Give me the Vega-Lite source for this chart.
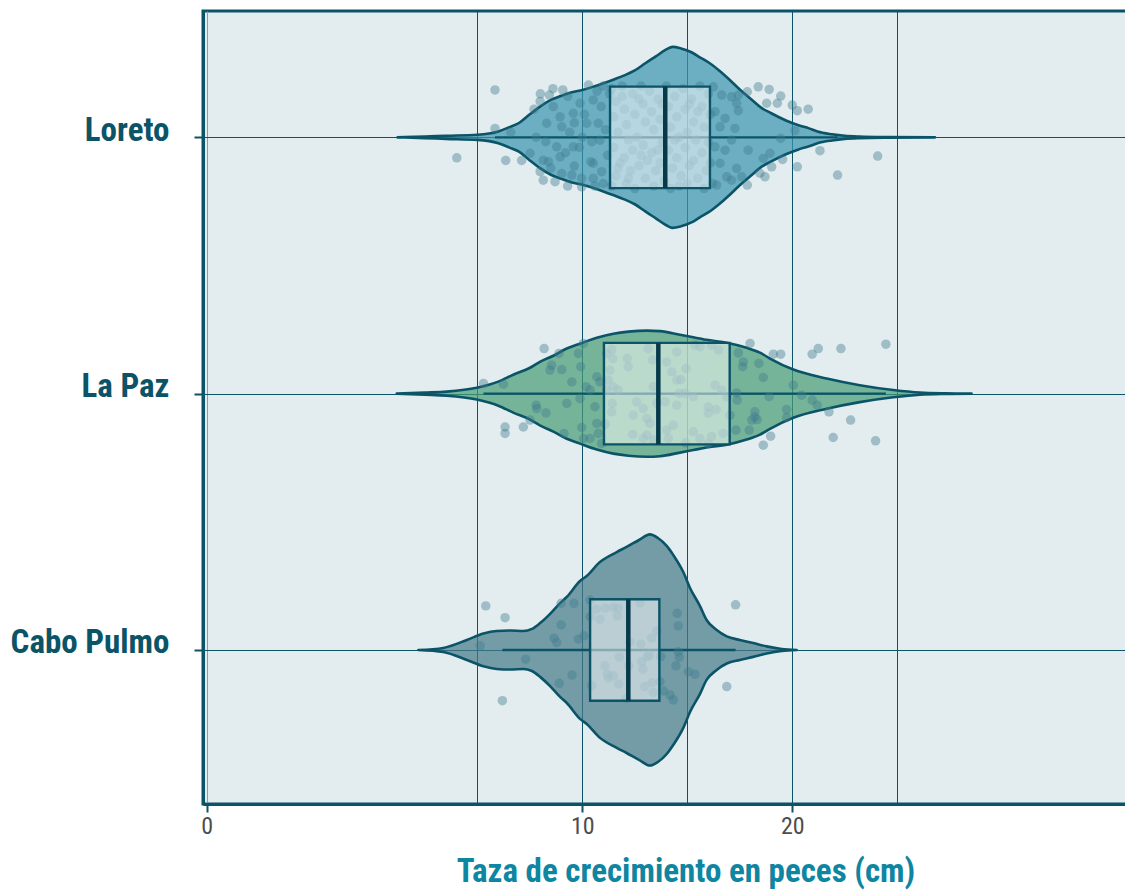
{
  "$schema": "https://vega.github.io/schema/vega-lite/v6.json",
  "autosize": "none",
  "width": 965,
  "height": 793,
  "padding": {"left": 203, "top": 11, "right": 0, "bottom": 86},
  "background": "white",
  "config": {
    "view": {"fill": "#e3ecee", "stroke": "#0b5468", "strokeWidth": 3},
    "font": "'Roboto Condensed', 'Liberation Sans Narrow', Roboto, sans-serif"
  },
  "datasets": {
    "violin": [
      {"site": "Loreto", "growth": 1.2, "half": 0},
      {"site": "Loreto", "growth": 2.5, "half": 0.003},
      {"site": "Loreto", "growth": 3.5, "half": 0.006},
      {"site": "Loreto", "growth": 5.0, "half": 0.010},
      {"site": "Loreto", "growth": 6.0, "half": 0.023},
      {"site": "Loreto", "growth": 6.5, "half": 0.039},
      {"site": "Loreto", "growth": 7.0, "half": 0.057},
      {"site": "Loreto", "growth": 7.5, "half": 0.090},
      {"site": "Loreto", "growth": 8.0, "half": 0.121},
      {"site": "Loreto", "growth": 8.5, "half": 0.146},
      {"site": "Loreto", "growth": 9.0, "half": 0.162},
      {"site": "Loreto", "growth": 9.5, "half": 0.176},
      {"site": "Loreto", "growth": 10.0, "half": 0.185},
      {"site": "Loreto", "growth": 10.5, "half": 0.197},
      {"site": "Loreto", "growth": 11.0, "half": 0.211},
      {"site": "Loreto", "growth": 11.5, "half": 0.226},
      {"site": "Loreto", "growth": 12.0, "half": 0.242},
      {"site": "Loreto", "growth": 12.5, "half": 0.261},
      {"site": "Loreto", "growth": 13.0, "half": 0.289},
      {"site": "Loreto", "growth": 13.5, "half": 0.316},
      {"site": "Loreto", "growth": 14.0, "half": 0.343},
      {"site": "Loreto", "growth": 14.3, "half": 0.353},
      {"site": "Loreto", "growth": 14.7, "half": 0.347},
      {"site": "Loreto", "growth": 15.2, "half": 0.332},
      {"site": "Loreto", "growth": 15.6, "half": 0.312},
      {"site": "Loreto", "growth": 16.0, "half": 0.293},
      {"site": "Loreto", "growth": 16.5, "half": 0.262},
      {"site": "Loreto", "growth": 17.0, "half": 0.226},
      {"site": "Loreto", "growth": 17.5, "half": 0.187},
      {"site": "Loreto", "growth": 18.0, "half": 0.152},
      {"site": "Loreto", "growth": 18.5, "half": 0.117},
      {"site": "Loreto", "growth": 19.0, "half": 0.094},
      {"site": "Loreto", "growth": 19.7, "half": 0.066},
      {"site": "Loreto", "growth": 20.3, "half": 0.047},
      {"site": "Loreto", "growth": 20.8, "half": 0.035},
      {"site": "Loreto", "growth": 21.2, "half": 0.023},
      {"site": "Loreto", "growth": 21.9, "half": 0.012},
      {"site": "Loreto", "growth": 22.5, "half": 0.006},
      {"site": "Loreto", "growth": 23.2, "half": 0.003},
      {"site": "Loreto", "growth": 24.5, "half": 0.001},
      {"site": "Loreto", "growth": 26.8, "half": 0},
      {"site": "La Paz", "growth": 1.16, "half": 0},
      {"site": "La Paz", "growth": 2.5, "half": 0.004},
      {"site": "La Paz", "growth": 3.54, "half": 0.008},
      {"site": "La Paz", "growth": 4.97, "half": 0.023},
      {"site": "La Paz", "growth": 6.0, "half": 0.047},
      {"site": "La Paz", "growth": 6.71, "half": 0.074},
      {"site": "La Paz", "growth": 7.51, "half": 0.101},
      {"site": "La Paz", "growth": 8.0, "half": 0.125},
      {"site": "La Paz", "growth": 8.62, "half": 0.148},
      {"site": "La Paz", "growth": 9.26, "half": 0.176},
      {"site": "La Paz", "growth": 9.89, "half": 0.195},
      {"site": "La Paz", "growth": 10.69, "half": 0.218},
      {"site": "La Paz", "growth": 11.48, "half": 0.234},
      {"site": "La Paz", "growth": 12.2, "half": 0.242},
      {"site": "La Paz", "growth": 13.07, "half": 0.246},
      {"site": "La Paz", "growth": 13.7, "half": 0.244},
      {"site": "La Paz", "growth": 14.65, "half": 0.230},
      {"site": "La Paz", "growth": 15.29, "half": 0.220},
      {"site": "La Paz", "growth": 16.0, "half": 0.209},
      {"site": "La Paz", "growth": 16.88, "half": 0.199},
      {"site": "La Paz", "growth": 17.83, "half": 0.179},
      {"site": "La Paz", "growth": 18.46, "half": 0.160},
      {"site": "La Paz", "growth": 18.94, "half": 0.137},
      {"site": "La Paz", "growth": 20.05, "half": 0.094},
      {"site": "La Paz", "growth": 21.64, "half": 0.059},
      {"site": "La Paz", "growth": 23.22, "half": 0.033},
      {"site": "La Paz", "growth": 24.81, "half": 0.014},
      {"site": "La Paz", "growth": 26.08, "half": 0.004},
      {"site": "La Paz", "growth": 27.3, "half": 0.001},
      {"site": "La Paz", "growth": 28.54, "half": 0},
      {"site": "Cabo Pulmo", "growth": 2.19, "half": 0},
      {"site": "Cabo Pulmo", "growth": 3.38, "half": 0.008},
      {"site": "Cabo Pulmo", "growth": 4.5, "half": 0.039},
      {"site": "Cabo Pulmo", "growth": 5.29, "half": 0.064},
      {"site": "Cabo Pulmo", "growth": 5.92, "half": 0.074},
      {"site": "Cabo Pulmo", "growth": 6.56, "half": 0.076},
      {"site": "Cabo Pulmo", "growth": 7.19, "half": 0.074},
      {"site": "Cabo Pulmo", "growth": 7.6, "half": 0.082},
      {"site": "Cabo Pulmo", "growth": 7.99, "half": 0.105},
      {"site": "Cabo Pulmo", "growth": 8.5, "half": 0.144},
      {"site": "Cabo Pulmo", "growth": 8.94, "half": 0.183},
      {"site": "Cabo Pulmo", "growth": 9.26, "half": 0.207},
      {"site": "Cabo Pulmo", "growth": 9.89, "half": 0.269},
      {"site": "Cabo Pulmo", "growth": 10.21, "half": 0.289},
      {"site": "Cabo Pulmo", "growth": 10.84, "half": 0.343},
      {"site": "Cabo Pulmo", "growth": 11.64, "half": 0.382},
      {"site": "Cabo Pulmo", "growth": 12.11, "half": 0.402},
      {"site": "Cabo Pulmo", "growth": 12.7, "half": 0.429},
      {"site": "Cabo Pulmo", "growth": 13.22, "half": 0.451},
      {"site": "Cabo Pulmo", "growth": 13.6, "half": 0.437},
      {"site": "Cabo Pulmo", "growth": 14.02, "half": 0.406},
      {"site": "Cabo Pulmo", "growth": 14.33, "half": 0.371},
      {"site": "Cabo Pulmo", "growth": 14.81, "half": 0.304},
      {"site": "Cabo Pulmo", "growth": 15.13, "half": 0.242},
      {"site": "Cabo Pulmo", "growth": 15.6, "half": 0.172},
      {"site": "Cabo Pulmo", "growth": 15.92, "half": 0.117},
      {"site": "Cabo Pulmo", "growth": 16.4, "half": 0.078},
      {"site": "Cabo Pulmo", "growth": 16.88, "half": 0.053},
      {"site": "Cabo Pulmo", "growth": 17.5, "half": 0.039},
      {"site": "Cabo Pulmo", "growth": 18.14, "half": 0.027},
      {"site": "Cabo Pulmo", "growth": 18.78, "half": 0.014},
      {"site": "Cabo Pulmo", "growth": 19.5, "half": 0.004},
      {"site": "Cabo Pulmo", "growth": 20.21, "half": 0}
    ],
    "boxes": [
      {"site": "Loreto", "lower": 5.84, "q1": 11.32, "median": 13.95, "q3": 16.08, "upper": 22.16},
      {"site": "La Paz", "lower": 5.29, "q1": 11.03, "median": 13.62, "q3": 17.02, "upper": 24.46},
      {"site": "Cabo Pulmo", "lower": 6.19, "q1": 10.37, "median": 12.19, "q3": 13.67, "upper": 17.3}
    ],
    "fish": [
      {"site": "Loreto", "growth": 4.02, "jitter": -0.08},
      {"site": "Loreto", "growth": 5.84, "jitter": 0.185},
      {"site": "Loreto", "growth": 5.84, "jitter": 0.035},
      {"site": "Loreto", "growth": 6.35, "jitter": -0.09},
      {"site": "Loreto", "growth": 7.11, "jitter": -0.09},
      {"site": "Loreto", "growth": 6.59, "jitter": 0.02},
      {"site": "Loreto", "growth": 7.99, "jitter": 0.14},
      {"site": "Loreto", "growth": 8.43, "jitter": 0.165},
      {"site": "Loreto", "growth": 9.07, "jitter": 0.185},
      {"site": "Loreto", "growth": 8.62, "jitter": 0.12},
      {"site": "Loreto", "growth": 8.94, "jitter": 0.08},
      {"site": "Loreto", "growth": 9.57, "jitter": 0.094},
      {"site": "Loreto", "growth": 9.89, "jitter": 0.133},
      {"site": "Loreto", "growth": 10.29, "jitter": 0.204},
      {"site": "Loreto", "growth": 10.52, "jitter": 0.146},
      {"site": "Loreto", "growth": 8.3, "jitter": 0.055},
      {"site": "Loreto", "growth": 9.02, "jitter": 0.041},
      {"site": "Loreto", "growth": 9.62, "jitter": 0.057},
      {"site": "Loreto", "growth": 10.21, "jitter": 0.055},
      {"site": "Loreto", "growth": 10.76, "jitter": 0.055},
      {"site": "Loreto", "growth": 8.26, "jitter": -0.017},
      {"site": "Loreto", "growth": 8.78, "jitter": -0.037},
      {"site": "Loreto", "growth": 8.94, "jitter": -0.076},
      {"site": "Loreto", "growth": 9.57, "jitter": -0.037},
      {"site": "Loreto", "growth": 9.86, "jitter": -0.039},
      {"site": "Loreto", "growth": 10.45, "jitter": -0.017},
      {"site": "Loreto", "growth": 10.84, "jitter": -0.011},
      {"site": "Loreto", "growth": 7.51, "jitter": -0.062},
      {"site": "Loreto", "growth": 8.14, "jitter": -0.089},
      {"site": "Loreto", "growth": 8.38, "jitter": -0.095},
      {"site": "Loreto", "growth": 7.99, "jitter": -0.134},
      {"site": "Loreto", "growth": 8.14, "jitter": -0.167},
      {"site": "Loreto", "growth": 8.7, "jitter": -0.173},
      {"site": "Loreto", "growth": 9.02, "jitter": -0.141},
      {"site": "Loreto", "growth": 9.5, "jitter": -0.147},
      {"site": "Loreto", "growth": 9.62, "jitter": -0.112},
      {"site": "Loreto", "growth": 9.97, "jitter": -0.16},
      {"site": "Loreto", "growth": 9.97, "jitter": -0.193},
      {"site": "Loreto", "growth": 10.52, "jitter": -0.16},
      {"site": "Loreto", "growth": 10.52, "jitter": -0.101},
      {"site": "Loreto", "growth": 10.92, "jitter": -0.134},
      {"site": "Loreto", "growth": 11.0, "jitter": -0.18},
      {"site": "Loreto", "growth": 10.4, "jitter": -0.095},
      {"site": "Loreto", "growth": 7.7, "jitter": 0.11},
      {"site": "Loreto", "growth": 8.0, "jitter": 0.17},
      {"site": "Loreto", "growth": 8.6, "jitter": 0.19},
      {"site": "Loreto", "growth": 9.3, "jitter": 0.16},
      {"site": "Loreto", "growth": 9.4, "jitter": 0.02},
      {"site": "Loreto", "growth": 9.2, "jitter": -0.06},
      {"site": "Loreto", "growth": 10.1, "jitter": 0.09},
      {"site": "Loreto", "growth": 10.7, "jitter": 0.18},
      {"site": "Loreto", "growth": 10.9, "jitter": 0.12},
      {"site": "Loreto", "growth": 11.1, "jitter": 0.03},
      {"site": "Loreto", "growth": 11.2, "jitter": -0.07},
      {"site": "Loreto", "growth": 10.6, "jitter": -0.19},
      {"site": "Loreto", "growth": 9.3, "jitter": -0.19},
      {"site": "Loreto", "growth": 8.5, "jitter": -0.12},
      {"site": "Loreto", "growth": 7.8, "jitter": 0.0},
      {"site": "Loreto", "growth": 10.0, "jitter": 0.0},
      {"site": "Loreto", "growth": 11.3, "jitter": 0.17},
      {"site": "Loreto", "growth": 11.0, "jitter": 0.2},
      {"site": "Loreto", "growth": 11.4, "jitter": 0.19},
      {"site": "Loreto", "growth": 11.6, "jitter": 0.14},
      {"site": "Loreto", "growth": 11.5, "jitter": 0.08},
      {"site": "Loreto", "growth": 11.7, "jitter": 0.02},
      {"site": "Loreto", "growth": 11.5, "jitter": -0.04},
      {"site": "Loreto", "growth": 11.8, "jitter": -0.1},
      {"site": "Loreto", "growth": 11.6, "jitter": -0.15},
      {"site": "Loreto", "growth": 11.4, "jitter": -0.19},
      {"site": "Loreto", "growth": 11.9, "jitter": 0.2},
      {"site": "Loreto", "growth": 12.0, "jitter": 0.11},
      {"site": "Loreto", "growth": 12.1, "jitter": 0.05},
      {"site": "Loreto", "growth": 12.2, "jitter": -0.01},
      {"site": "Loreto", "growth": 12.0, "jitter": -0.08},
      {"site": "Loreto", "growth": 12.3, "jitter": -0.13},
      {"site": "Loreto", "growth": 12.1, "jitter": -0.18},
      {"site": "Loreto", "growth": 12.4, "jitter": 0.17},
      {"site": "Loreto", "growth": 12.5, "jitter": 0.09},
      {"site": "Loreto", "growth": 12.6, "jitter": 0.0},
      {"site": "Loreto", "growth": 12.4, "jitter": -0.05},
      {"site": "Loreto", "growth": 12.7, "jitter": -0.11},
      {"site": "Loreto", "growth": 12.5, "jitter": -0.2},
      {"site": "Loreto", "growth": 12.8, "jitter": 0.2},
      {"site": "Loreto", "growth": 12.9, "jitter": 0.13},
      {"site": "Loreto", "growth": 13.0, "jitter": 0.06},
      {"site": "Loreto", "growth": 12.9, "jitter": -0.03},
      {"site": "Loreto", "growth": 13.1, "jitter": -0.09},
      {"site": "Loreto", "growth": 13.0, "jitter": -0.16},
      {"site": "Loreto", "growth": 13.2, "jitter": 0.18},
      {"site": "Loreto", "growth": 13.3, "jitter": 0.1},
      {"site": "Loreto", "growth": 13.4, "jitter": 0.03},
      {"site": "Loreto", "growth": 13.3, "jitter": -0.06},
      {"site": "Loreto", "growth": 13.5, "jitter": -0.13},
      {"site": "Loreto", "growth": 13.4, "jitter": -0.19},
      {"site": "Loreto", "growth": 13.6, "jitter": 0.15},
      {"site": "Loreto", "growth": 13.7, "jitter": 0.07},
      {"site": "Loreto", "growth": 13.8, "jitter": -0.02},
      {"site": "Loreto", "growth": 13.7, "jitter": -0.1},
      {"site": "Loreto", "growth": 13.9, "jitter": -0.17},
      {"site": "Loreto", "growth": 14.0, "jitter": 0.2},
      {"site": "Loreto", "growth": 14.1, "jitter": 0.12},
      {"site": "Loreto", "growth": 14.2, "jitter": 0.04},
      {"site": "Loreto", "growth": 14.1, "jitter": -0.05},
      {"site": "Loreto", "growth": 14.3, "jitter": -0.12},
      {"site": "Loreto", "growth": 14.2, "jitter": -0.2},
      {"site": "Loreto", "growth": 14.4, "jitter": 0.16},
      {"site": "Loreto", "growth": 14.5, "jitter": 0.08},
      {"site": "Loreto", "growth": 14.6, "jitter": 0.0},
      {"site": "Loreto", "growth": 14.5, "jitter": -0.08},
      {"site": "Loreto", "growth": 14.7, "jitter": -0.15},
      {"site": "Loreto", "growth": 14.8, "jitter": 0.19},
      {"site": "Loreto", "growth": 14.9, "jitter": 0.11},
      {"site": "Loreto", "growth": 15.0, "jitter": 0.02},
      {"site": "Loreto", "growth": 14.9, "jitter": -0.04},
      {"site": "Loreto", "growth": 15.1, "jitter": -0.11},
      {"site": "Loreto", "growth": 15.0, "jitter": -0.18},
      {"site": "Loreto", "growth": 15.2, "jitter": 0.15},
      {"site": "Loreto", "growth": 15.3, "jitter": 0.06},
      {"site": "Loreto", "growth": 15.4, "jitter": -0.01},
      {"site": "Loreto", "growth": 15.3, "jitter": -0.09},
      {"site": "Loreto", "growth": 15.5, "jitter": -0.16},
      {"site": "Loreto", "growth": 15.6, "jitter": 0.2},
      {"site": "Loreto", "growth": 15.7, "jitter": 0.12},
      {"site": "Loreto", "growth": 15.8, "jitter": 0.04},
      {"site": "Loreto", "growth": 15.7, "jitter": -0.06},
      {"site": "Loreto", "growth": 15.9, "jitter": -0.13},
      {"site": "Loreto", "growth": 15.8, "jitter": -0.2},
      {"site": "Loreto", "growth": 16.0, "jitter": 0.17},
      {"site": "Loreto", "growth": 16.1, "jitter": 0.09},
      {"site": "Loreto", "growth": 16.0, "jitter": -0.02},
      {"site": "Loreto", "growth": 16.1, "jitter": -0.1},
      {"site": "Loreto", "growth": 16.2, "jitter": -0.18},
      {"site": "Loreto", "growth": 11.9, "jitter": 0.16},
      {"site": "Loreto", "growth": 12.7, "jitter": 0.15},
      {"site": "Loreto", "growth": 13.6, "jitter": -0.05},
      {"site": "Loreto", "growth": 14.4, "jitter": -0.01},
      {"site": "Loreto", "growth": 15.1, "jitter": 0.13},
      {"site": "Loreto", "growth": 12.2, "jitter": -0.16},
      {"site": "Loreto", "growth": 13.8, "jitter": 0.13},
      {"site": "Loreto", "growth": 14.6, "jitter": -0.19},
      {"site": "Loreto", "growth": 11.7, "jitter": -0.12},
      {"site": "Loreto", "growth": 15.5, "jitter": 0.1},
      {"site": "Loreto", "growth": 12.8, "jitter": -0.07},
      {"site": "Loreto", "growth": 16.24, "jitter": 0.197},
      {"site": "Loreto", "growth": 16.64, "jitter": 0.165},
      {"site": "Loreto", "growth": 17.11, "jitter": 0.158},
      {"site": "Loreto", "growth": 17.43, "jitter": 0.165},
      {"site": "Loreto", "growth": 17.86, "jitter": 0.178},
      {"site": "Loreto", "growth": 18.38, "jitter": 0.197},
      {"site": "Loreto", "growth": 18.9, "jitter": 0.187},
      {"site": "Loreto", "growth": 19.45, "jitter": 0.161},
      {"site": "Loreto", "growth": 18.78, "jitter": 0.133},
      {"site": "Loreto", "growth": 19.29, "jitter": 0.133},
      {"site": "Loreto", "growth": 20.0, "jitter": 0.126},
      {"site": "Loreto", "growth": 20.24, "jitter": 0.104},
      {"site": "Loreto", "growth": 20.76, "jitter": 0.11},
      {"site": "Loreto", "growth": 17.43, "jitter": 0.104},
      {"site": "Loreto", "growth": 16.8, "jitter": 0.074},
      {"site": "Loreto", "growth": 17.27, "jitter": 0.035},
      {"site": "Loreto", "growth": 17.11, "jitter": -0.01},
      {"site": "Loreto", "growth": 19.45, "jitter": -0.004},
      {"site": "Loreto", "growth": 20.13, "jitter": 0.026},
      {"site": "Loreto", "growth": 17.9, "jitter": -0.05},
      {"site": "Loreto", "growth": 18.62, "jitter": -0.082},
      {"site": "Loreto", "growth": 18.94, "jitter": -0.062},
      {"site": "Loreto", "growth": 19.54, "jitter": -0.086},
      {"site": "Loreto", "growth": 19.02, "jitter": -0.115},
      {"site": "Loreto", "growth": 20.24, "jitter": -0.115},
      {"site": "Loreto", "growth": 21.32, "jitter": -0.052},
      {"site": "Loreto", "growth": 24.07, "jitter": -0.073},
      {"site": "Loreto", "growth": 22.16, "jitter": -0.147},
      {"site": "Loreto", "growth": 17.35, "jitter": -0.121},
      {"site": "Loreto", "growth": 16.88, "jitter": -0.154},
      {"site": "Loreto", "growth": 17.11, "jitter": -0.167},
      {"site": "Loreto", "growth": 17.59, "jitter": -0.154},
      {"site": "Loreto", "growth": 17.86, "jitter": -0.186},
      {"site": "Loreto", "growth": 18.46, "jitter": -0.14},
      {"site": "Loreto", "growth": 18.7, "jitter": -0.154},
      {"site": "Loreto", "growth": 16.56, "jitter": -0.101},
      {"site": "Loreto", "growth": 16.4, "jitter": -0.186},
      {"site": "Loreto", "growth": 16.8, "jitter": -0.05},
      {"site": "Loreto", "growth": 16.32, "jitter": -0.037},
      {"site": "Loreto", "growth": 16.56, "jitter": 0.041},
      {"site": "Loreto", "growth": 16.32, "jitter": 0.1},
      {"site": "Loreto", "growth": 17.35, "jitter": 0.133},
      {"site": "La Paz", "growth": 8.18, "jitter": 0.176},
      {"site": "La Paz", "growth": 5.29, "jitter": 0.04},
      {"site": "La Paz", "growth": 6.24, "jitter": 0.037},
      {"site": "La Paz", "growth": 6.32, "jitter": -0.13},
      {"site": "La Paz", "growth": 6.32, "jitter": -0.155},
      {"site": "La Paz", "growth": 7.19, "jitter": -0.13},
      {"site": "La Paz", "growth": 7.51, "jitter": -0.103},
      {"site": "La Paz", "growth": 7.8, "jitter": -0.045},
      {"site": "La Paz", "growth": 7.83, "jitter": -0.058},
      {"site": "La Paz", "growth": 8.27, "jitter": -0.075},
      {"site": "La Paz", "growth": 8.46, "jitter": 0.092},
      {"site": "La Paz", "growth": 8.54, "jitter": 0.111},
      {"site": "La Paz", "growth": 8.89, "jitter": 0.157},
      {"site": "La Paz", "growth": 9.02, "jitter": 0.094},
      {"site": "La Paz", "growth": 9.26, "jitter": -0.038},
      {"site": "La Paz", "growth": 9.13, "jitter": -0.155},
      {"site": "La Paz", "growth": 9.5, "jitter": 0.046},
      {"site": "La Paz", "growth": 9.81, "jitter": 0.157},
      {"site": "La Paz", "growth": 9.92, "jitter": 0.105},
      {"site": "La Paz", "growth": 10.05, "jitter": 0.196},
      {"site": "La Paz", "growth": 9.89, "jitter": -0.019},
      {"site": "La Paz", "growth": 9.97, "jitter": -0.132},
      {"site": "La Paz", "growth": 10.05, "jitter": -0.175},
      {"site": "La Paz", "growth": 10.37, "jitter": -0.175},
      {"site": "La Paz", "growth": 10.18, "jitter": 0.027},
      {"site": "La Paz", "growth": 10.37, "jitter": 0.014},
      {"site": "La Paz", "growth": 10.6, "jitter": -0.051},
      {"site": "La Paz", "growth": 10.69, "jitter": -0.116},
      {"site": "La Paz", "growth": 10.76, "jitter": -0.155},
      {"site": "La Paz", "growth": 10.69, "jitter": 0.066},
      {"site": "La Paz", "growth": 10.84, "jitter": 0.046},
      {"site": "La Paz", "growth": 10.92, "jitter": -0.194},
      {"site": "La Paz", "growth": 11.16, "jitter": 0.157},
      {"site": "La Paz", "growth": 11.4, "jitter": 0.172},
      {"site": "La Paz", "growth": 11.45, "jitter": 0.137},
      {"site": "La Paz", "growth": 11.32, "jitter": 0.092},
      {"site": "La Paz", "growth": 11.24, "jitter": 0.053},
      {"site": "La Paz", "growth": 11.48, "jitter": 0.027},
      {"site": "La Paz", "growth": 11.71, "jitter": 0.014},
      {"site": "La Paz", "growth": 11.16, "jitter": 0.014},
      {"site": "La Paz", "growth": 11.43, "jitter": -0.038},
      {"site": "La Paz", "growth": 11.4, "jitter": -0.071},
      {"site": "La Paz", "growth": 11.1, "jitter": -0.119},
      {"site": "La Paz", "growth": 12.14, "jitter": 0.137},
      {"site": "La Paz", "growth": 12.19, "jitter": 0.105},
      {"site": "La Paz", "growth": 12.59, "jitter": -0.032},
      {"site": "La Paz", "growth": 12.43, "jitter": -0.084},
      {"site": "La Paz", "growth": 12.4, "jitter": -0.159},
      {"site": "La Paz", "growth": 12.9, "jitter": -0.058},
      {"site": "La Paz", "growth": 13.07, "jitter": -0.097},
      {"site": "La Paz", "growth": 13.14, "jitter": 0.176},
      {"site": "La Paz", "growth": 13.35, "jitter": 0.131},
      {"site": "La Paz", "growth": 13.38, "jitter": 0.027},
      {"site": "La Paz", "growth": 13.54, "jitter": -0.038},
      {"site": "La Paz", "growth": 13.22, "jitter": -0.116},
      {"site": "La Paz", "growth": 13.07, "jitter": -0.162},
      {"site": "La Paz", "growth": 12.9, "jitter": -0.175},
      {"site": "La Paz", "growth": 13.38, "jitter": -0.181},
      {"site": "La Paz", "growth": 13.94, "jitter": -0.032},
      {"site": "La Paz", "growth": 14.02, "jitter": 0.124},
      {"site": "La Paz", "growth": 14.26, "jitter": 0.085},
      {"site": "La Paz", "growth": 14.5, "jitter": 0.163},
      {"site": "La Paz", "growth": 14.5, "jitter": 0.053},
      {"site": "La Paz", "growth": 14.5, "jitter": -0.045},
      {"site": "La Paz", "growth": 14.33, "jitter": -0.123},
      {"site": "La Paz", "growth": 14.1, "jitter": -0.175},
      {"site": "La Paz", "growth": 14.69, "jitter": 0.055},
      {"site": "La Paz", "growth": 14.94, "jitter": 0.098},
      {"site": "La Paz", "growth": 15.37, "jitter": 0.189},
      {"site": "La Paz", "growth": 15.6, "jitter": 0.183},
      {"site": "La Paz", "growth": 16.16, "jitter": 0.189},
      {"site": "La Paz", "growth": 16.48, "jitter": 0.17},
      {"site": "La Paz", "growth": 16.32, "jitter": 0.033},
      {"site": "La Paz", "growth": 16.64, "jitter": 0.014},
      {"site": "La Paz", "growth": 16.88, "jitter": -0.012},
      {"site": "La Paz", "growth": 14.89, "jitter": 0.001},
      {"site": "La Paz", "growth": 14.62, "jitter": 0.001},
      {"site": "La Paz", "growth": 16.0, "jitter": -0.051},
      {"site": "La Paz", "growth": 16.0, "jitter": -0.077},
      {"site": "La Paz", "growth": 16.37, "jitter": -0.062},
      {"site": "La Paz", "growth": 17.03, "jitter": -0.084},
      {"site": "La Paz", "growth": 15.29, "jitter": -0.149},
      {"site": "La Paz", "growth": 15.6, "jitter": -0.175},
      {"site": "La Paz", "growth": 16.16, "jitter": -0.168},
      {"site": "La Paz", "growth": 16.71, "jitter": -0.155},
      {"site": "La Paz", "growth": 16.0, "jitter": -0.194},
      {"site": "La Paz", "growth": 14.92, "jitter": -0.192},
      {"site": "La Paz", "growth": 17.43, "jitter": 0.159},
      {"site": "La Paz", "growth": 17.67, "jitter": 0.124},
      {"site": "La Paz", "growth": 17.64, "jitter": 0.105},
      {"site": "La Paz", "growth": 17.99, "jitter": 0.196},
      {"site": "La Paz", "growth": 18.41, "jitter": 0.118},
      {"site": "La Paz", "growth": 18.62, "jitter": 0.063},
      {"site": "La Paz", "growth": 19.1, "jitter": 0.154},
      {"site": "La Paz", "growth": 19.45, "jitter": 0.154},
      {"site": "La Paz", "growth": 20.95, "jitter": 0.154},
      {"site": "La Paz", "growth": 21.24, "jitter": 0.176},
      {"site": "La Paz", "growth": 22.32, "jitter": 0.176},
      {"site": "La Paz", "growth": 24.46, "jitter": 0.193},
      {"site": "La Paz", "growth": 17.35, "jitter": 0.003},
      {"site": "La Paz", "growth": 17.38, "jitter": -0.025},
      {"site": "La Paz", "growth": 18.9, "jitter": -0.012},
      {"site": "La Paz", "growth": 20.05, "jitter": 0.033},
      {"site": "La Paz", "growth": 20.45, "jitter": -0.006},
      {"site": "La Paz", "growth": 20.95, "jitter": -0.025},
      {"site": "La Paz", "growth": 21.19, "jitter": -0.045},
      {"site": "La Paz", "growth": 21.75, "jitter": -0.071},
      {"site": "La Paz", "growth": 22.78, "jitter": -0.103},
      {"site": "La Paz", "growth": 19.73, "jitter": -0.062},
      {"site": "La Paz", "growth": 19.73, "jitter": -0.093},
      {"site": "La Paz", "growth": 18.22, "jitter": -0.071},
      {"site": "La Paz", "growth": 18.22, "jitter": -0.091},
      {"site": "La Paz", "growth": 18.07, "jitter": -0.103},
      {"site": "La Paz", "growth": 18.33, "jitter": -0.101},
      {"site": "La Paz", "growth": 17.32, "jitter": -0.142},
      {"site": "La Paz", "growth": 17.95, "jitter": -0.142},
      {"site": "La Paz", "growth": 18.97, "jitter": -0.166},
      {"site": "La Paz", "growth": 18.62, "jitter": -0.201},
      {"site": "La Paz", "growth": 21.95, "jitter": -0.171},
      {"site": "La Paz", "growth": 23.97, "jitter": -0.184},
      {"site": "La Paz", "growth": 14.02, "jitter": -0.142},
      {"site": "La Paz", "growth": 15.29, "jitter": -0.012},
      {"site": "Cabo Pulmo", "growth": 5.4, "jitter": 0.172},
      {"site": "Cabo Pulmo", "growth": 6.32, "jitter": 0.126},
      {"site": "Cabo Pulmo", "growth": 6.19, "jitter": -0.198},
      {"site": "Cabo Pulmo", "growth": 5.13, "jitter": 0.016},
      {"site": "Cabo Pulmo", "growth": 7.3, "jitter": -0.036},
      {"site": "Cabo Pulmo", "growth": 8.99, "jitter": 0.182},
      {"site": "Cabo Pulmo", "growth": 9.6, "jitter": 0.182},
      {"site": "Cabo Pulmo", "growth": 8.99, "jitter": 0.098},
      {"site": "Cabo Pulmo", "growth": 8.65, "jitter": 0.046},
      {"site": "Cabo Pulmo", "growth": 8.78, "jitter": 0.029},
      {"site": "Cabo Pulmo", "growth": 9.81, "jitter": 0.042},
      {"site": "Cabo Pulmo", "growth": 10.08, "jitter": 0.055},
      {"site": "Cabo Pulmo", "growth": 8.9, "jitter": -0.13},
      {"site": "Cabo Pulmo", "growth": 9.51, "jitter": -0.098},
      {"site": "Cabo Pulmo", "growth": 10.37, "jitter": 0.195},
      {"site": "Cabo Pulmo", "growth": 10.65, "jitter": 0.159},
      {"site": "Cabo Pulmo", "growth": 10.37, "jitter": 0.13},
      {"site": "Cabo Pulmo", "growth": 10.84, "jitter": 0.12},
      {"site": "Cabo Pulmo", "growth": 11.08, "jitter": 0.163},
      {"site": "Cabo Pulmo", "growth": 11.48, "jitter": 0.167},
      {"site": "Cabo Pulmo", "growth": 11.71, "jitter": 0.163},
      {"site": "Cabo Pulmo", "growth": 11.67, "jitter": 0.133},
      {"site": "Cabo Pulmo", "growth": 12.75, "jitter": 0.185},
      {"site": "Cabo Pulmo", "growth": 12.27, "jitter": 0.032},
      {"site": "Cabo Pulmo", "growth": 12.78, "jitter": 0.023},
      {"site": "Cabo Pulmo", "growth": 11.76, "jitter": -0.028},
      {"site": "Cabo Pulmo", "growth": 11.08, "jitter": -0.062},
      {"site": "Cabo Pulmo", "growth": 11.19, "jitter": -0.094},
      {"site": "Cabo Pulmo", "growth": 11.48, "jitter": -0.101},
      {"site": "Cabo Pulmo", "growth": 11.24, "jitter": -0.11},
      {"site": "Cabo Pulmo", "growth": 11.73, "jitter": -0.133},
      {"site": "Cabo Pulmo", "growth": 10.45, "jitter": -0.14},
      {"site": "Cabo Pulmo", "growth": 12.21, "jitter": -0.062},
      {"site": "Cabo Pulmo", "growth": 12.11, "jitter": -0.188},
      {"site": "Cabo Pulmo", "growth": 12.83, "jitter": -0.046},
      {"site": "Cabo Pulmo", "growth": 12.88, "jitter": -0.075},
      {"site": "Cabo Pulmo", "growth": 13.1, "jitter": -0.026},
      {"site": "Cabo Pulmo", "growth": 13.19, "jitter": -0.02},
      {"site": "Cabo Pulmo", "growth": 13.3, "jitter": 0.046},
      {"site": "Cabo Pulmo", "growth": 13.54, "jitter": 0.074},
      {"site": "Cabo Pulmo", "growth": 13.73, "jitter": -0.026},
      {"site": "Cabo Pulmo", "growth": 12.97, "jitter": -0.143},
      {"site": "Cabo Pulmo", "growth": 13.33, "jitter": -0.128},
      {"site": "Cabo Pulmo", "growth": 13.38, "jitter": -0.166},
      {"site": "Cabo Pulmo", "growth": 13.7, "jitter": -0.124},
      {"site": "Cabo Pulmo", "growth": 13.86, "jitter": -0.16},
      {"site": "Cabo Pulmo", "growth": 14.18, "jitter": -0.176},
      {"site": "Cabo Pulmo", "growth": 14.33, "jitter": -0.195},
      {"site": "Cabo Pulmo", "growth": 14.52, "jitter": 0.143},
      {"site": "Cabo Pulmo", "growth": 14.57, "jitter": 0.094},
      {"site": "Cabo Pulmo", "growth": 14.57, "jitter": -0.007},
      {"site": "Cabo Pulmo", "growth": 14.62, "jitter": -0.028},
      {"site": "Cabo Pulmo", "growth": 14.46, "jitter": -0.062},
      {"site": "Cabo Pulmo", "growth": 15.05, "jitter": -0.085},
      {"site": "Cabo Pulmo", "growth": 15.37, "jitter": -0.095},
      {"site": "Cabo Pulmo", "growth": 17.3, "jitter": 0.176},
      {"site": "Cabo Pulmo", "growth": 16.88, "jitter": -0.143}
    ]
  },
  "layer": [
    {
      "data": {"name": "violin"},
      "transform": [
        {"calculate": "indexof(['Cabo Pulmo', 'La Paz', 'Loreto'], datum.site) + 1", "as": "pos"},
        {"calculate": "datum.pos + datum.half", "as": "edge_top"},
        {"calculate": "datum.pos - datum.half", "as": "edge_bottom"}
      ],
      "mark": {"type": "area", "orient": "vertical", "interpolate": "monotone", "fillOpacity": 0.7, "stroke": "#0b5468", "strokeWidth": 2.6, "strokeJoin": "round"},
      "encoding": {
        "x": {
          "field": "growth", "type": "quantitative",
          "scale": {"domain": [-8.07, 37.9], "nice": false, "zero": false},
          "axis": {
            "values": [-7.9, 5, 10, 15, 20, 25],
            "labelExpr": "datum.value < 0 ? '0' : (datum.value == 10 || datum.value == 20 ? datum.label : '')",
            "labelFlush": false,
            "labelOverlap": false,
            "labelBound": false,
            "labelFontSize": 24,
            "labelColor": "#4d4d4d",
            "labelPadding": 2,
            "domainColor": "#0b5468",
            "domainWidth": 3,
            "tickColor": "#0b5468",
            "tickWidth": 2,
            "tickSize": 8,
            "tickOpacity": {"condition": {"test": "datum.value == 5 || datum.value == 15 || datum.value == 25", "value": 0}, "value": 1},
            "grid": true,
            "gridColor": {"condition": {"test": "datum.value < 0", "value": "#7fa3ad"}, "value": "#0b5468"},
            "gridWidth": 1,
            "title": "Taza de crecimiento en peces (cm)",
            "titleFontSize": 33,
            "titleFontWeight": "bold",
            "titleColor": "#0e86a1",
            "titlePadding": 17
          }
        },
        "y": {
          "field": "edge_top", "type": "quantitative",
          "scale": {"domain": [0.399, 3.493], "nice": false, "zero": false},
          "axis": {
            "values": [1, 2, 3],
            "labelExpr": "datum.value == 3 ? 'Loreto' : (datum.value == 2 ? 'La Paz' : 'Cabo Pulmo')",
            "labelFontSize": 33,
            "labelFontWeight": "bold",
            "labelColor": "#0b5468",
            "labelBaseline": "alphabetic",
            "labelOffset": 3,
            "labelPadding": 25,
            "domainColor": "#0b5468",
            "domainWidth": 3,
            "tickColor": "#0b5468",
            "tickWidth": 2,
            "tickSize": 9,
            "grid": true,
            "gridColor": "#0b5468",
            "gridWidth": 1,
            "title": null
          }
        },
        "y2": {"field": "edge_bottom"},
        "color": {
          "field": "site", "type": "nominal",
          "scale": {"domain": ["Loreto", "La Paz", "Cabo Pulmo"], "range": ["#3996b1", "#469c73", "#447a87"]},
          "legend": null
        }
      }
    },
    {
      "data": {"name": "boxes"},
      "transform": [
        {"calculate": "indexof(['Cabo Pulmo', 'La Paz', 'Loreto'], datum.site) + 1", "as": "pos"}
      ],
      "mark": {"type": "rule", "stroke": "#0b5468", "strokeWidth": 2.4},
      "encoding": {
        "x": {"field": "lower", "type": "quantitative", "scale": {"domain": [-8.07, 37.9], "nice": false, "zero": false}},
        "x2": {"field": "upper"},
        "y": {"field": "pos", "type": "quantitative", "scale": {"domain": [0.399, 3.493], "nice": false, "zero": false}}
      }
    },
    {
      "data": {"name": "fish"},
      "transform": [
        {"calculate": "indexof(['Cabo Pulmo', 'La Paz', 'Loreto'], datum.site) + 1 + datum.jitter", "as": "ypos"}
      ],
      "mark": {"type": "circle", "size": 90, "color": "#3d7c8f", "opacity": 0.42},
      "encoding": {
        "x": {"field": "growth", "type": "quantitative", "scale": {"domain": [-8.07, 37.9], "nice": false, "zero": false}},
        "y": {"field": "ypos", "type": "quantitative", "scale": {"domain": [0.399, 3.493], "nice": false, "zero": false}}
      }
    },
    {
      "data": {"name": "boxes"},
      "transform": [
        {"calculate": "indexof(['Cabo Pulmo', 'La Paz', 'Loreto'], datum.site) + 1", "as": "pos"},
        {"calculate": "datum.pos + 0.198", "as": "box_top"},
        {"calculate": "datum.pos - 0.198", "as": "box_bottom"}
      ],
      "mark": {"type": "rect", "fill": "white", "fillOpacity": 0.5, "stroke": "#0b5468", "strokeWidth": 2.4},
      "encoding": {
        "x": {"field": "q1", "type": "quantitative", "scale": {"domain": [-8.07, 37.9], "nice": false, "zero": false}},
        "x2": {"field": "q3"},
        "y": {"field": "box_top", "type": "quantitative", "scale": {"domain": [0.399, 3.493], "nice": false, "zero": false}},
        "y2": {"field": "box_bottom"}
      }
    },
    {
      "data": {"name": "boxes"},
      "transform": [
        {"calculate": "indexof(['Cabo Pulmo', 'La Paz', 'Loreto'], datum.site) + 1", "as": "pos"},
        {"calculate": "datum.pos + 0.198", "as": "box_top"},
        {"calculate": "datum.pos - 0.198", "as": "box_bottom"}
      ],
      "mark": {"type": "rule", "stroke": "#06394a", "strokeWidth": 4.5},
      "encoding": {
        "x": {"field": "median", "type": "quantitative", "scale": {"domain": [-8.07, 37.9], "nice": false, "zero": false}},
        "y": {"field": "box_top", "type": "quantitative", "scale": {"domain": [0.399, 3.493], "nice": false, "zero": false}},
        "y2": {"field": "box_bottom"}
      }
    }
  ]
}
